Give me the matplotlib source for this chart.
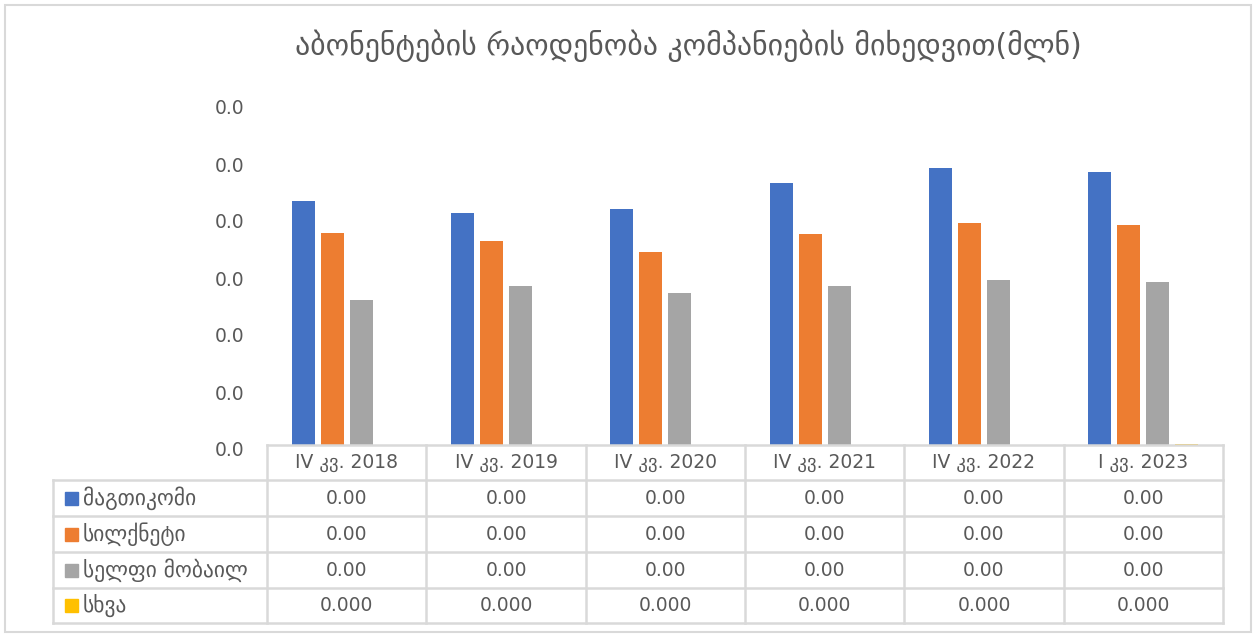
import numpy as np
import matplotlib
matplotlib.use("Agg")
import matplotlib.pyplot as plt
import matplotlib.transforms as mtransforms
from matplotlib.ticker import FormatStrFormatter, MultipleLocator
from matplotlib.patches import Rectangle

# ------------------------- data -------------------------
TITLE = "აბონენტების რაოდენობა კომპანიების მიხედვით(მლნ)"
CATEGORIES = ["IV კვ. 2018", "IV კვ. 2019", "IV კვ. 2020",
              "IV კვ. 2021", "IV კვ. 2022", "I კვ. 2023"]
SERIES = ["მაგთიკომი", "სილქნეტი", "სელფი მობაილ", "სხვა"]

magticom = [0.00428, 0.00407, 0.00414, 0.00460, 0.00486, 0.00479]
silknet = [0.00372, 0.00358, 0.00339, 0.00370, 0.00389, 0.00386]
cellfie = [0.00254, 0.00279, 0.00267, 0.00279, 0.00289, 0.00286]
other = [0.0, 0.0, 0.0, 0.0, 0.0, 0.00002]
VALUES = [magticom, silknet, cellfie, other]
FORMATS = ["{:.2f}", "{:.2f}", "{:.2f}", "{:.3f}"]

COLORS = ["#4472C4", "#ED7D31", "#A5A5A5", "#FFC000"]
TEXT = "#595959"
LINE = "#D9D9D9"

plt.rcParams["font.family"] = ["DejaVu Sans"]

W, H = 1253, 634
fig = plt.figure(figsize=(W / 100, H / 100), dpi=100)


def fx(px):
    return px / W


def fy(py):
    return 1 - py / H


# outer chart border
fig.patches.append(Rectangle((fx(5), fy(632)), fx(1246), fy(5) - fy(632),
                             transform=fig.transFigure, fill=False,
                             edgecolor=LINE, linewidth=1.5))

# ------------------------- bars -------------------------
left, right, top, base = 267, 1223, 103, 445
ax = fig.add_axes([fx(left), fy(base), fx(right - left), fy(top) - fy(base)])
x = np.arange(len(CATEGORIES))
step, width = 0.182, 0.145
for k, (vals, col) in enumerate(zip(VALUES, COLORS)):
    ax.bar(x + (k - 1.5) * step, vals, width=width, color=col, zorder=2)

ax.set_xlim(-0.5, len(CATEGORIES) - 0.5)
ax.set_ylim(0, 0.006)
ax.yaxis.set_major_locator(MultipleLocator(0.001))
ax.yaxis.set_major_formatter(FormatStrFormatter("%.1f"))
ax.tick_params(axis="y", length=0, pad=16.5, labelsize=13.5, labelcolor=TEXT)
ax.set_xticks([])
for s in ax.spines.values():
    s.set_visible(False)
ax.patch.set_alpha(0)
shift = mtransforms.ScaledTranslation(0, -4 / 100, fig.dpi_scale_trans)
for lab in ax.get_yticklabels():
    lab.set_transform(lab.get_transform() + shift)

fig.text(fx(688), fy(46), TITLE, ha="center", va="center", fontsize=21.5, color=TEXT)

# ------------------------- data table -------------------------
tl, tr, tb = 53, 1223, 623
tax = fig.add_axes([fx(tl), fy(tb), fx(tr - tl), fy(base) - fy(tb)])
tax.set_xlim(tl, tr)
tax.set_ylim(tb, base)
tax.axis("off")

row_edges = [base, 480, 516, 552, 588, tb]
col_w = (right - left) / len(CATEGORIES)
col_edges = [left + i * col_w for i in range(len(CATEGORIES) + 1)]
lk = dict(color=LINE, linewidth=1.8, clip_on=False)

# header row (only over the category columns)
tax.plot([left, right], [base, base], **lk)
for y in row_edges[1:]:
    tax.plot([tl, right], [y, y], **lk)
tax.plot([tl, tl], [row_edges[1], tb], **lk)
for xe in col_edges:
    tax.plot([xe, xe], [base, tb], **lk)

for i, cat in enumerate(CATEGORIES):
    cx = (col_edges[i] + col_edges[i + 1]) / 2
    tax.text(cx, (row_edges[0] + row_edges[1]) / 2, cat, ha="center", va="center",
             fontsize=13.5, color=TEXT)

for r, (name, vals, col, fmt) in enumerate(zip(SERIES, VALUES, COLORS, FORMATS)):
    y0, y1 = row_edges[r + 1], row_edges[r + 2]
    cy = (y0 + y1) / 2
    tax.add_patch(Rectangle((65, cy - 6.5), 13, 13, color=col, clip_on=False))
    tax.text(83, cy, name, ha="left", va="center", fontsize=15.5, color=TEXT)
    for i, v in enumerate(vals):
        cx = (col_edges[i] + col_edges[i + 1]) / 2
        tax.text(cx, cy, fmt.format(v), ha="center", va="center",
                 fontsize=13.5, color=TEXT)

fig.savefig("out.png", dpi=100)
